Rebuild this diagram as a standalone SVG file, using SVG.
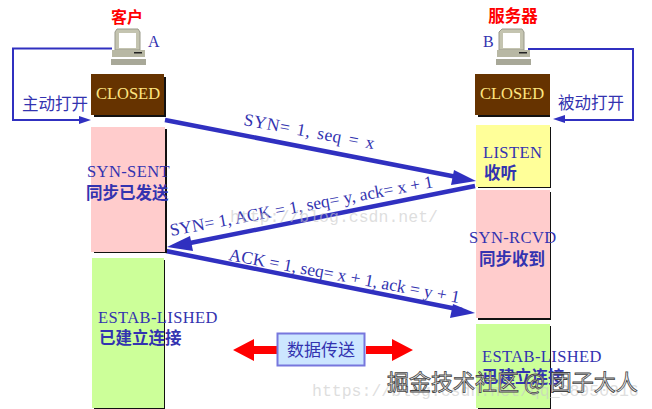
<svg xmlns="http://www.w3.org/2000/svg" width="652" height="409" viewBox="0 0 652 409">
<style>
text{font-family:"Liberation Serif","Noto Sans CJK SC",serif;fill:#3333b0}
.cjk{font-family:"Noto Sans CJK SC",sans-serif}
.b{font-weight:700}
.lbl{font-size:16.500px;letter-spacing:.4px}
.msg{font-size:17.500px}
.shadow{fill:#111}
.conn{stroke:#3030c0;fill:none}
.thick{stroke-width:4.5}
.thin{stroke-width:2}
.ah{fill:#3030c0}
.wm{font-family:"Liberation Mono",monospace;font-size:16.500px;fill:#c8c8c8;fill-opacity:.6}
</style>
<g id="client">
<text x="127" y="23" text-anchor="middle" class="cjk b" font-size="16" style="fill:#f00">客户</text>
<path d="M117 29h21l2 3v18h-25V32z" fill="#c4c4b0" stroke="#99998a"/><rect x="119" y="33" width="17" height="15" fill="#fff"/>
<path d="M112 50h33v7h-33z" fill="#b8b8a4"/><rect x="134" y="52" width="8" height="1.500" fill="#222"/><rect x="111" y="59" width="35" height="6" fill="#a8a898"/>
<text x="148" y="47" font-size="16">A</text>
</g>
<g id="server">
<text x="513" y="22" text-anchor="middle" class="cjk b" font-size="16.500" style="fill:#f00">服务器</text>
<path d="M502 29h20l2 3v18h-25V32z" fill="#c4c4b0" stroke="#99998a"/><rect x="503" y="33" width="17" height="15" fill="#fff"/>
<path d="M497 50h33v7h-33z" fill="#b8b8a4"/><rect x="519" y="52" width="8" height="1.500" fill="#222"/><rect x="496" y="59" width="35" height="6" fill="#a8a898"/>
<text x="483" y="47" font-size="16">B</text>
</g>
<g id="connectors">
<path class="conn thin" d="M112 48.500H13V120H82"/><path class="ah" d="M91 120l-12-4v8z"/>
<path class="conn thin" d="M528 49H633V120H563"/><path class="ah" d="M553 119l12-4v8z"/>
<path class="conn thick" d="M165 120L462 178"/><path class="ah" d="M476 181l-22-11-3 15z"/>
<path class="conn thick" d="M475 186L190 243"/><path class="ah" d="M167 247l23-11 3 15z"/>
<path class="conn thick" d="M166 251L462 310"/><path class="ah" d="M475 313l-22-9-3 14z"/>
</g>
<g id="msg-labels">
<text class="msg" transform="translate(243 125) rotate(10.500)" style="word-spacing:2px;letter-spacing:.5px">SYN= 1, seq = x</text>
<text class="msg" transform="translate(171 236) rotate(-10.500)">SYN= 1, ACK = 1, seq= y, ack= x + 1</text>
<text class="msg" transform="translate(228 260) rotate(10.600)">ACK = 1, seq= x + 1, ack = y + 1</text>
</g>
<g id="closed-a"><rect class="shadow" x="94" y="77" width="72" height="40"/><rect x="91" y="74" width="73" height="41" fill="#663300"/><text x="128" y="99" text-anchor="middle" font-size="16.500" style="fill:#ffe680">CLOSED</text></g>
<g id="closed-b"><rect class="shadow" x="478" y="77" width="72" height="40"/><rect x="475" y="74" width="75" height="41" fill="#663300"/><text x="512" y="99" text-anchor="middle" font-size="16.500" style="fill:#ffe680">CLOSED</text></g>
<g id="syn-sent"><rect class="shadow" x="94" y="129" width="73" height="124"/><rect x="91" y="127" width="74" height="125" fill="#ffcccc"/><text x="87" y="177" class="lbl">SYN-SENT</text><text x="86" y="199" class="cjk b" font-size="16.500">同步已发送</text></g>
<g id="estab-a"><rect class="shadow" x="94" y="260" width="71" height="149"/><rect x="92" y="258" width="72" height="150" fill="#ccff99"/><text x="98" y="323" class="lbl">ESTAB-LISHED</text><text x="99" y="344" class="cjk b" font-size="16.500">已建立连接</text></g>
<g id="listen"><rect class="shadow" x="478" y="127" width="73" height="61"/><rect x="476" y="125" width="74" height="62" fill="#ffff99"/><text x="483" y="158" class="lbl">LISTEN</text><text x="484" y="179" class="cjk b" font-size="16.500">收听</text></g>
<g id="syn-rcvd"><rect class="shadow" x="478" y="192" width="73" height="128"/><rect x="476" y="190" width="74" height="128" fill="#ffcccc"/><text x="469" y="243" class="lbl">SYN-RCVD</text><text x="479" y="265" class="cjk b" font-size="16.500">同步收到</text></g>
<g id="estab-b"><rect class="shadow" x="478" y="326" width="73" height="83"/><rect x="476" y="324" width="74" height="84" fill="#ccff99"/><text x="482" y="362" class="lbl">ESTAB-LISHED</text><text x="482" y="383" class="cjk b" font-size="16.500">已建立连接</text></g>
<g id="data"><path d="M233 350l21-11v7h26v8h-26v7zM413 350l-21-11v7h-26v8h26v7z" fill="#f00"/><rect x="277.500" y="333.500" width="87" height="32" fill="#cce6ff" stroke="#7777dd" stroke-width="2"/><text x="321" y="356" text-anchor="middle" class="cjk" font-size="17">数据传送</text></g>
<text class="cjk" x="22" y="110" font-size="16.500">主动打开</text>
<text class="cjk" x="558" y="109" font-size="16.500">被动打开</text>
<g id="watermarks">
<text class="wm" x="230" y="222">http://blog.csdn.net/</text>
<text class="wm" x="312" y="396">https://blog.csdn.net/qq_38950316</text>
<text x="387" y="390" class="cjk" font-size="22" style="fill:#eee;stroke:#444;stroke-width:.8">掘金技术社区 @ 团子大人</text>
</g>
</svg>
